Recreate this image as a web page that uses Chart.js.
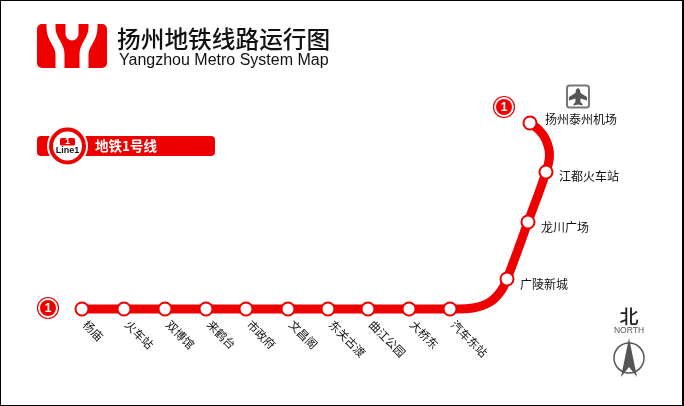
<!DOCTYPE html>
<html>
<head>
<meta charset="utf-8">
<title>扬州地铁线路运行图</title>
<script src="https://cdn.jsdelivr.net/npm/chart.js@4"></script>
<style>
  html, body { margin: 0; padding: 0; background: #fff; }
  canvas { display: block; }
</style>
</head>
<body>
<canvas id="metroChart" width="684" height="406"></canvas>
<script>
// Stations of line 1, west to east then north
const stationNames = ["杨庙", "火车站", "双博馆", "来鹤台", "市政府", "文昌阁", "东关古渡", "曲江公园", "大桥东", "汽车东站", "广陵新城", "龙川广场", "江都火车站", "扬州泰州机场"];
const stationX = [82, 124, 165, 206, 246, 288, 328, 368, 409, 450, 507, 528, 546, 530];
const stationY = [309, 309, 309, 309, 309, 309, 309, 309, 309, 309, 279, 222, 172, 123];

// Track centre line
const trackX = [82, 124, 165, 206, 246, 288, 328, 368, 409, 450, 473, 490, 501, 507, 528, 546, 549.5, 546, 539, 530];
const trackY = [309, 309, 309, 309, 309, 309, 309, 309, 309, 309, 308, 302, 291, 279, 222, 172, 155, 140, 130, 123];

// Line number badges at both ends
const badgeX = [48, 504];
const badgeY = [308, 107];
const badgeLabels = ["1", "1"];

const RED = "#ee0000";
const FONT = "'Noto Sans CJK SC', sans-serif";

function toPoints(xs, ys) {
    return xs.map((x, i) => ({ x: x, y: ys[i] }));
}

function roundBox(ctx, x, y, w, h, r) {
    ctx.beginPath();
    ctx.roundRect(x, y, w, h, r);
}

function drawLogo(ctx) {
    ctx.fillStyle = RED;
    roundBox(ctx, 37, 24, 70, 44, 5);
    ctx.fill();

    // the two white bands that leave the Y shape
    ctx.strokeStyle = "#fff";
    ctx.lineWidth = 9;
    [1, -1].forEach(side => {
        const mx = x => (side === 1 ? x : 144 - x);
        ctx.beginPath();
        ctx.moveTo(mx(51), 20);
        ctx.lineTo(mx(51), 28);
        ctx.bezierCurveTo(mx(51), 40, mx(60), 44, mx(60), 54);
        ctx.lineTo(mx(60), 72);
        ctx.stroke();
    });

    // notch of the Y
    ctx.fillStyle = "#fff";
    ctx.beginPath();
    ctx.moveTo(65.5, 22);
    ctx.lineTo(65.5, 34);
    ctx.arc(72, 34, 6.5, Math.PI, 0, true);
    ctx.lineTo(78.5, 22);
    ctx.closePath();
    ctx.fill();

    // clean the area above and below the badge
    ctx.fillRect(30, 16, 85, 8);
    ctx.fillRect(30, 68, 85, 6);
}

function drawTitle(ctx) {
    ctx.fillStyle = "#111";
    ctx.textAlign = "left";
    ctx.textBaseline = "middle";
    ctx.font = "500 23.7px " + FONT;
    ctx.fillText("扬州地铁线路运行图", 117, 39);
    ctx.font = "16px 'Liberation Sans', sans-serif";
    ctx.fillText("Yangzhou Metro System Map", 119, 61);
}

function drawLineTag(ctx) {
    ctx.fillStyle = RED;
    roundBox(ctx, 37, 136, 178, 20, 4);
    ctx.fill();

    ctx.fillStyle = "#fff";
    ctx.beginPath();
    ctx.arc(67.5, 146, 20.5, 0, Math.PI * 2);
    ctx.fill();

    ctx.strokeStyle = RED;
    ctx.lineWidth = 4;
    ctx.beginPath();
    ctx.arc(67.5, 146, 16.5, 0, Math.PI * 2);
    ctx.stroke();

    ctx.fillStyle = RED;
    roundBox(ctx, 60, 138, 15, 7.5, 1.5);
    ctx.fill();

    ctx.textAlign = "center";
    ctx.textBaseline = "middle";
    ctx.fillStyle = "#fff";
    ctx.font = "bold 9px 'Liberation Sans', sans-serif";
    ctx.fillText("1", 67.5, 142);
    ctx.fillStyle = "#111";
    ctx.font = "bold 9px 'Liberation Sans', sans-serif";
    ctx.fillText("Line1", 67.5, 151);

    ctx.textAlign = "left";
    ctx.fillStyle = "#fff";
    ctx.font = "bold 13.5px " + FONT;
    ctx.fillText("地铁1号线", 95, 146);
}

function drawPlane(ctx) {
    ctx.strokeStyle = "#777";
    ctx.lineWidth = 2;
    roundBox(ctx, 567, 85.5, 22, 22, 2.5);
    ctx.stroke();

    ctx.fillStyle = "#555";
    ctx.beginPath();
    ctx.moveTo(578, 88);
    ctx.quadraticCurveTo(580.5, 89, 580.5, 93);
    ctx.lineTo(587, 97);
    ctx.lineTo(587, 100.5);
    ctx.lineTo(580.5, 98.5);
    ctx.lineTo(580.5, 102);
    ctx.lineTo(582.5, 104);
    ctx.lineTo(582.5, 105.5);
    ctx.lineTo(578, 104.5);
    ctx.lineTo(573.5, 105.5);
    ctx.lineTo(573.5, 104);
    ctx.lineTo(575.5, 102);
    ctx.lineTo(575.5, 98.5);
    ctx.lineTo(569, 100.5);
    ctx.lineTo(569, 97);
    ctx.lineTo(575.5, 93);
    ctx.quadraticCurveTo(575.5, 89, 578, 88);
    ctx.closePath();
    ctx.fill();
}

function drawNorth(ctx) {
    ctx.textAlign = "center";
    ctx.textBaseline = "middle";
    ctx.fillStyle = "#222";
    ctx.font = "500 19px " + FONT;
    ctx.fillText("北", 629, 317);
    ctx.fillStyle = "#555";
    ctx.font = "8.5px 'Liberation Sans', sans-serif";
    ctx.fillText("NORTH", 629, 331);

    ctx.strokeStyle = "#555";
    ctx.lineWidth = 1.5;
    ctx.beginPath();
    ctx.arc(629, 358, 15, 0, Math.PI * 2);
    ctx.stroke();

    ctx.fillStyle = "#555";
    ctx.beginPath();
    ctx.moveTo(629, 338);
    ctx.lineTo(637, 377);
    ctx.lineTo(629, 367);
    ctx.lineTo(621, 377);
    ctx.closePath();
    ctx.fill();
}

// Station names sit next to their point, taken through the chart scales
function drawStationNames(chart, ctx) {
    const xScale = chart.scales.x;
    const yScale = chart.scales.y;
    ctx.fillStyle = "#111";
    ctx.textBaseline = "middle";
    ctx.textAlign = "left";
    stationNames.forEach((name, i) => {
        const px = xScale.getPixelForValue(stationX[i]);
        const py = yScale.getPixelForValue(stationY[i]);
        ctx.save();
        if (i < 10) {
            ctx.font = "11.5px " + FONT;
            ctx.translate(px + 3, py + 13.5);
            ctx.rotate(Math.PI / 4);
            ctx.fillText(name, 0, 0);
        } else {
            ctx.font = "12px " + FONT;
            if (i === 13) {
                ctx.fillText(name, px + 15, py - 4);
            } else if (i === 12) {
                ctx.fillText(name, px + 13, py + 4);
            } else {
                ctx.fillText(name, px + 13, py + 5);
            }
        }
        ctx.restore();
    });
}

function drawBadgeLabels(chart, ctx) {
    ctx.fillStyle = "#fff";
    ctx.font = "bold 12px 'Liberation Sans', sans-serif";
    ctx.textAlign = "center";
    ctx.textBaseline = "middle";
    badgeLabels.forEach((label, i) => {
        ctx.fillText(label, chart.scales.x.getPixelForValue(badgeX[i]), chart.scales.y.getPixelForValue(badgeY[i]) + 0.5);
    });
}

const mapDecor = {
    id: "mapDecor",
    beforeDatasetsDraw(chart) {
        const ctx = chart.ctx;
        ctx.save();
        drawLogo(ctx);
        drawTitle(ctx);
        drawLineTag(ctx);
        drawPlane(ctx);
        drawNorth(ctx);
        ctx.restore();
    },
    afterDatasetsDraw(chart) {
        const ctx = chart.ctx;
        ctx.save();
        drawStationNames(chart, ctx);
        drawBadgeLabels(chart, ctx);
        // picture frame
        ctx.fillStyle = "#000";
        ctx.fillRect(0, 0, 684, 1);
        ctx.fillRect(0, 0, 1, 406);
        ctx.fillRect(682, 0, 2, 406);
        ctx.fillRect(0, 405, 684, 1);
        ctx.restore();
    }
};

new Chart(document.getElementById("metroChart"), {
    type: "line",
    data: {
        datasets: [
            {
                label: "站点",
                data: toPoints(stationX, stationY),
                showLine: false,
                pointRadius: 6.5,
                pointBackgroundColor: "#fff",
                pointBorderColor: RED,
                pointBorderWidth: 2,
                order: 0
            },
            {
                label: "地铁1号线",
                data: toPoints(trackX, trackY),
                borderColor: RED,
                borderWidth: 9,
                tension: 0.4,
                pointRadius: 0,
                order: 1
            },
            {
                label: "线路标记",
                data: toPoints(badgeX, badgeY),
                showLine: false,
                pointRadius: 8,
                pointBackgroundColor: RED,
                pointBorderWidth: 0,
                order: 2
            },
            {
                label: "线路标记外圈",
                data: toPoints(badgeX, badgeY),
                showLine: false,
                pointRadius: 10.5,
                pointBackgroundColor: "#fff",
                pointBorderColor: RED,
                pointBorderWidth: 1.2,
                order: 3
            }
        ]
    },
    options: {
        responsive: false,
        animation: false,
        events: [],
        layout: { padding: 0, autoPadding: false },
        scales: {
            x: { type: "linear", display: false, min: 0, max: 684 },
            y: { type: "linear", display: false, min: 0, max: 406, reverse: true }
        },
        plugins: {
            legend: { display: false },
            tooltip: { enabled: false }
        }
    },
    plugins: [mapDecor]
});
</script>
</body>
</html>
